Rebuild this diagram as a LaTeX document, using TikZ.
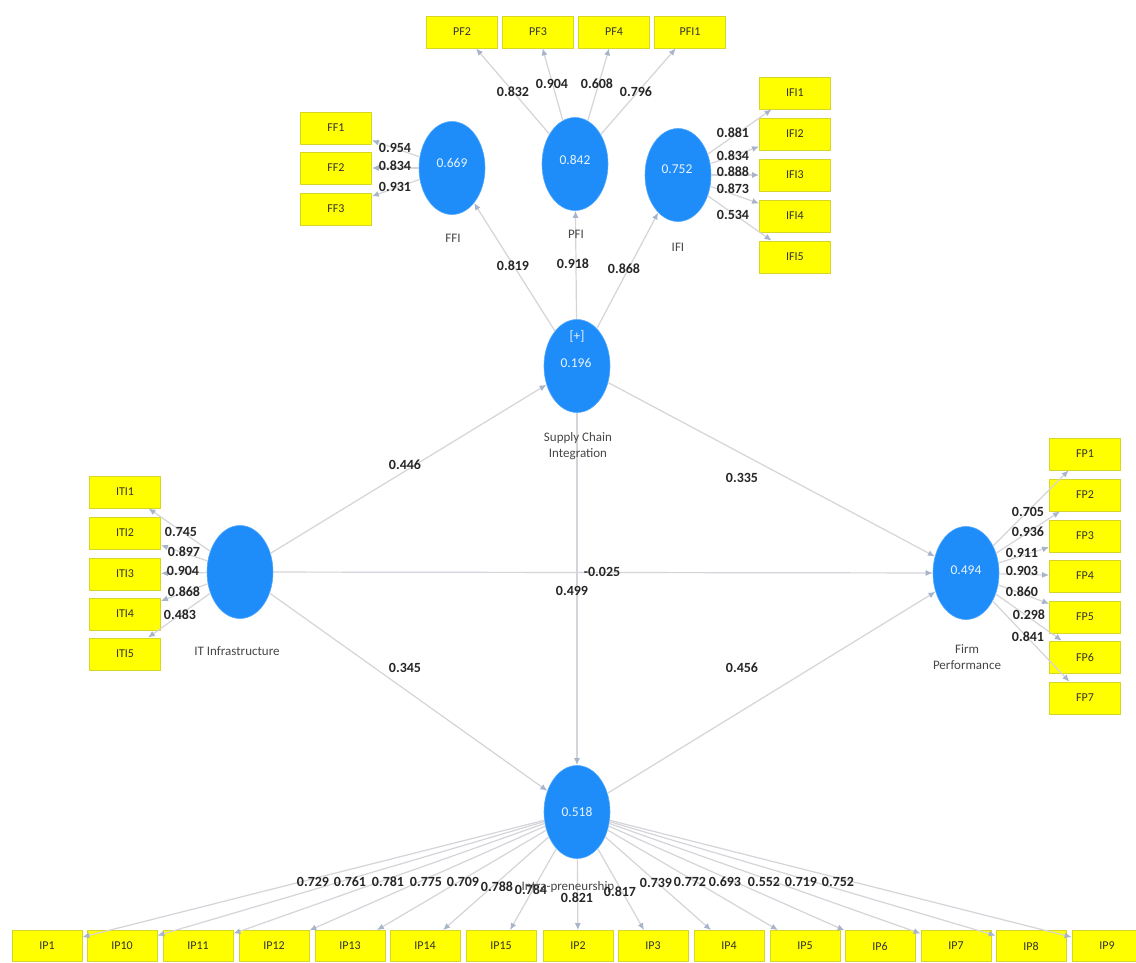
\documentclass[tikz,border=0pt]{standalone}
\usepackage{fontspec}
\setmainfont{Carlito}
\usetikzlibrary{shapes.geometric,arrows.meta}

\definecolor{lvblue}{RGB}{30,141,250}
\definecolor{mvyellow}{RGB}{255,255,0}
\definecolor{mvedge}{RGB}{214,214,40}
\definecolor{linkgray}{RGB}{212,212,218}
\definecolor{tipgray}{RGB}{168,180,202}
\definecolor{numink}{RGB}{38,38,38}

\tikzset{
  latent/.style={ellipse, fill=lvblue, draw=lvblue!75!white, line width=0.6pt,
    minimum width=66pt, minimum height=93pt, inner sep=0pt},
  indic/.style={rectangle, fill=mvyellow, draw=mvedge, line width=0.8pt,
    minimum width=71pt, minimum height=32pt, inner sep=0pt,
    font=\fontsize{12}{14}\selectfont, text=black!80},
  ipbox/.style={indic, minimum width=70pt, minimum height=31pt},
  lvval/.style={text=white!90!lvblue, font=\fontsize{13.5}{15}\selectfont, inner sep=0pt},
  lvname/.style={text=black!72, font=\fontsize{13}{16}\selectfont, inner sep=0pt, align=center},
  coef/.style={text=numink, font=\bfseries\fontsize{14}{16}\selectfont, inner sep=0pt},
  link/.style={draw=linkgray, line width=1.2pt,
    -{Latex[length=7pt,width=6pt,color=tipgray]}},
}

\begin{document}
\begin{tikzpicture}[x=1pt,y=-1pt]
\useasboundingbox (0,0) rectangle (1136,962);
\clip (0,0) rectangle (1136,962);
\fill[white] (0,0) rectangle (1136,962);

% ---- latent variables ----
\node[latent] (ffi) at (452,168) {};
\node[latent] (pfi) at (575,164) {};
\node[latent] (ifi) at (678,175) {};
\node[latent] (sci) at (577,366) {};
\node[latent] (iti) at (240,572) {};
\node[latent] (fp)  at (966,573) {};
\node[latent] (ip)  at (577,812) {};

% ---- indicators ----
\foreach \n/\y in {1/128,2/168,3/209}
  \node[indic] (ff\n) at (336,\y) {FF\n};
\foreach \nm/\txt/\x in {pf2/PF2/462, pf3/PF3/538, pf4/PF4/614, pfi1/PFI1/690}
  \node[indic] (\nm) at (\x,32) {\txt};
\foreach \n/\y in {1/93,2/134,3/175,4/216,5/257}
  \node[indic] (ifi\n) at (795,\y) {IFI\n};
\foreach \n/\y in {1/492,2/533,3/574,4/614,5/654}
  \node[indic] (iti\n) at (125,\y) {ITI\n};
\foreach \n/\y in {1/454,2/495,3/536,4/576,5/617,6/657,7/698}
  \node[indic] (fp\n) at (1085,\y) {FP\n};
\foreach \k/\txt/\x in {a/IP1/47, b/IP10/122, c/IP11/198, d/IP12/274, e/IP13/350,
    f/IP14/425, g/IP15/501, h/IP2/578, i/IP3/653, j/IP4/729, k/IP5/805,
    l/IP6/880, m/IP7/956, n/IP8/1031, o/IP9/1107}
  \node[ipbox] (ip\k) at (\x,946) {\txt};

% ---- structural paths ----
\draw[link] (sci) -- (ffi);
\draw[link] (sci) -- (pfi);
\draw[link] (sci) -- (ifi);
\draw[link] (iti) -- (sci);
\draw[link] (iti) -- (fp);
\draw[link] (iti) -- (ip);
\draw[link] (sci) -- (fp);
\draw[link] (sci) -- (ip);
\draw[link] (ip) -- (fp);

% ---- measurement paths ----
\foreach \n in {1,2,3} \draw[link] (ffi) -- (ff\n);
\foreach \nm in {pf2,pf3,pf4,pfi1} \draw[link] (pfi) -- (\nm);
\foreach \n in {1,...,5} \draw[link] (ifi) -- (ifi\n);
\foreach \n in {1,...,5} \draw[link] (iti) -- (iti\n);
\foreach \n in {1,...,7} \draw[link] (fp) -- (fp\n);
\foreach \k in {a,b,c,d,e,f,g,h,i,j,k,l,m,n,o} \draw[link] (ip) -- (ip\k);

% ---- values inside the latent variables ----
\node[lvval] (ffiv) at (452,163) {0.669};
\node[lvval] (pfiv) at (575,160) {0.842};
\node[lvval] (ifiv) at (677,169) {0.752};
\node[lvval] (scip) at (577,337) {[+]};
\node[lvval] (sciv) at (576,363) {0.196};
\node[lvval] (fpv)  at (966,570) {0.494};
\node[lvval] (ipv)  at (577,812) {0.518};

% ---- construct names ----
\node[lvname] (ffin) at (453,238) {FFI};
\node[lvname] (pfin) at (576,234) {PFI};
\node[lvname] (ifin) at (678,247) {IFI};
\node[lvname] (scin) at (578,446) {Supply Chain\\Integration};
\node[lvname] (itin) at (237,651) {IT Infrastructure};
\node[lvname] (fpn)  at (967,657) {Firm\\Performance};

% ---- path coefficients ----
\node[coef] (c1) at (405,465) {0.446};
\node[coef] (c2) at (742,478) {0.335};
\node[coef] (c3) at (602,572) {-0.025};
\node[coef] (c4) at (572,591) {0.499};
\node[coef] (c5) at (405,668) {0.345};
\node[coef] (c6) at (742,668) {0.456};
\node[coef] (c7) at (513,266) {0.819};
\node[coef] (c8) at (573,264) {0.918};
\node[coef] (c9) at (624,269) {0.868};

% ---- outer loadings ----
\node[coef] at (395,148) {0.954};
\node[coef] at (395,166) {0.834};
\node[coef] at (395,187) {0.931};

\node[coef] at (513,92) {0.832};
\node[coef] at (552,84) {0.904};
\node[coef] at (597,84) {0.608};
\node[coef] at (636,92) {0.796};

\node[coef] at (733,133) {0.881};
\node[coef] at (733,156) {0.834};
\node[coef] at (733,172) {0.888};
\node[coef] at (733,189) {0.873};
\node[coef] at (733,215) {0.534};

\node[coef] at (181,532) {0.745};
\node[coef] at (184,552) {0.897};
\node[coef] at (183,571) {0.904};
\node[coef] at (184,592) {0.868};
\node[coef] at (180,615) {0.483};

\node[coef] at (1028,512) {0.705};
\node[coef] at (1028,532) {0.936};
\node[coef] at (1022,553) {0.911};
\node[coef] at (1022,571) {0.903};
\node[coef] at (1022,592) {0.860};
\node[coef] at (1029,615) {0.298};
\node[coef] at (1028,637) {0.841};

\node[coef] at (313,882) {0.729};
\node[coef] at (350,882) {0.761};
\node[coef] at (388,882) {0.781};
\node[coef] at (426,882) {0.775};
\node[coef] at (463,882) {0.709};
\node[coef] at (497,887) {0.788};
\node[coef] at (531,890) {0.784};
\node[lvname] (ipn) at (568,887) {Intra-preneurship};
\node[coef] at (577,898) {0.821};
\node[coef] at (620,892) {0.817};
\node[coef] at (656,883) {0.739};
\node[coef] at (690,882) {0.772};
\node[coef] at (725,882) {0.693};
\node[coef] at (764,882) {0.552};
\node[coef] at (801,882) {0.719};
\node[coef] at (838,882) {0.752};
\end{tikzpicture}
\end{document}
